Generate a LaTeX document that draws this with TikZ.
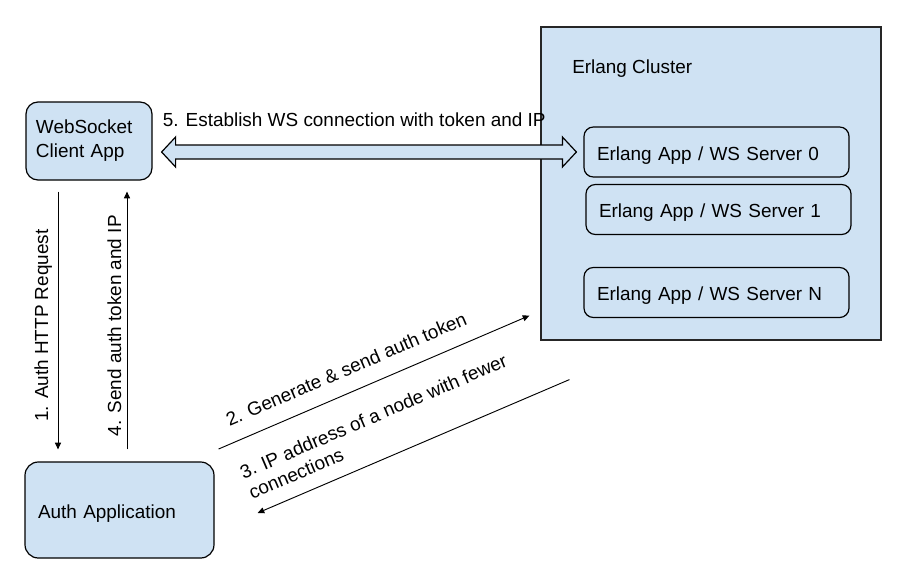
\documentclass[tikz,border=0pt]{standalone}
\usepackage{fontspec}
\setmainfont{Liberation Sans}
\usetikzlibrary{calc,arrows.meta}
\definecolor{boxblue}{HTML}{CFE2F3}
\newcommand\pxu{0.75pt}
\begin{document}
\begin{tikzpicture}[x=0.75pt,y=-0.75pt,
  every node/.style={font=\fontsize{14.2}{18}\selectfont},
  box/.style={draw=black, line width=0.9pt, fill=boxblue, align=left},
  server/.style={box, rounded corners=7pt, minimum width={265*\pxu}, minimum height={50*\pxu},
     text width={239*\pxu}, inner xsep={13*\pxu}, text height=12pt, text depth=0pt},
  cluster/.style={draw=black!85, line width=0.9pt, fill=boxblue},
  thinarrow/.style={draw=black, line width=0.7pt, -{Triangle[length=5pt,width=4.5pt]}},
  bigarrow/.style={draw=black, line width=0.9pt, fill=boxblue, line join=miter},
  lbl/.style={inner sep=0pt, text depth=0pt}]
\useasboundingbox (0,0) rectangle (906,582);

% boxes
\node[box, rounded corners=9pt, minimum width={126*\pxu}, minimum height={78*\pxu},
      text width={106*\pxu}, inner xsep={10*\pxu}] (ws) at (89,141) {WebSocket\\Client App};
\node[box, rounded corners=10pt, minimum width={189*\pxu}, minimum height={96*\pxu},
      text width={163*\pxu}, inner xsep={13*\pxu}, text height=12pt, text depth=0pt] (auth) at (119.5,510) {Auth Application};
\node[cluster, minimum width={340*\pxu}, minimum height={313*\pxu}] (cl) at (711,183.5) {};
\node[lbl, anchor=base west] (cltitle) at (572,73) {Erlang Cluster};
\node[server] (s0) at (716.5,152) {Erlang App / WS Server 0};
\node[server] (s1) at (718.5,209.5) {Erlang App / WS Server 1};
\node[server] (sN) at (716.5,292.5) {Erlang App / WS Server N};

% double arrow 5
\coordinate (L) at ($(ws.east |- s0.west)+(9,0)$);
\coordinate (R) at ($(s0.west)+(-7,0)$);
\draw[bigarrow] (L) -- ($(L)+(14,-15)$) -- ($(L)+(14,-7)$) -- ($(R)+(-14,-7)$) -- ($(R)+(-14,-15)$)
  -- (R) -- ($(R)+(-14,15)$) -- ($(R)+(-14,7)$) -- ($(L)+(14,7)$) -- ($(L)+(14,15)$) -- cycle;
\node[lbl, anchor=base west] (lab5) at ($(L)+(1,-26)$) {5. Establish WS connection with token and IP};

% arrows 1 and 4
\draw[thinarrow] ($(ws.south)+(-31,11)$) -- ($(auth.north -| ws.south)+(-31,-12)$)
  node[pos=0.52, rotate=90, anchor=south, lbl, outer ysep=7.5pt] (lab1) {1. Auth HTTP Request};
\draw[thinarrow] ($(auth.north -| ws.south)+(38,-12)$) -- ($(ws.south)+(38,11)$)
  node[pos=0.48, rotate=90, anchor=south, lbl, outer ysep=4.5pt] (lab4) {4. Send auth token and IP};

% arrows 2 and 3
\draw[thinarrow] ($(auth.east)+(4,-61)$) -- ($(cl.south west)+(-11,-25)$)
  node[pos=0.44, sloped, anchor=south, lbl, outer ysep=12.4pt] (lab2) {2. Generate \& send auth token};
\draw[thinarrow] ($(cl.south west)+(29,39)$) -- ($(auth.east)+(43,3)$)
  node[pos=1, sloped, anchor=south west, lbl, outer ysep=11pt, align=left,
       font=\fontsize{14.2}{16.5}\selectfont] (lab3) {3. IP address of a node with fewer\\connections};
\end{tikzpicture}
\end{document}
